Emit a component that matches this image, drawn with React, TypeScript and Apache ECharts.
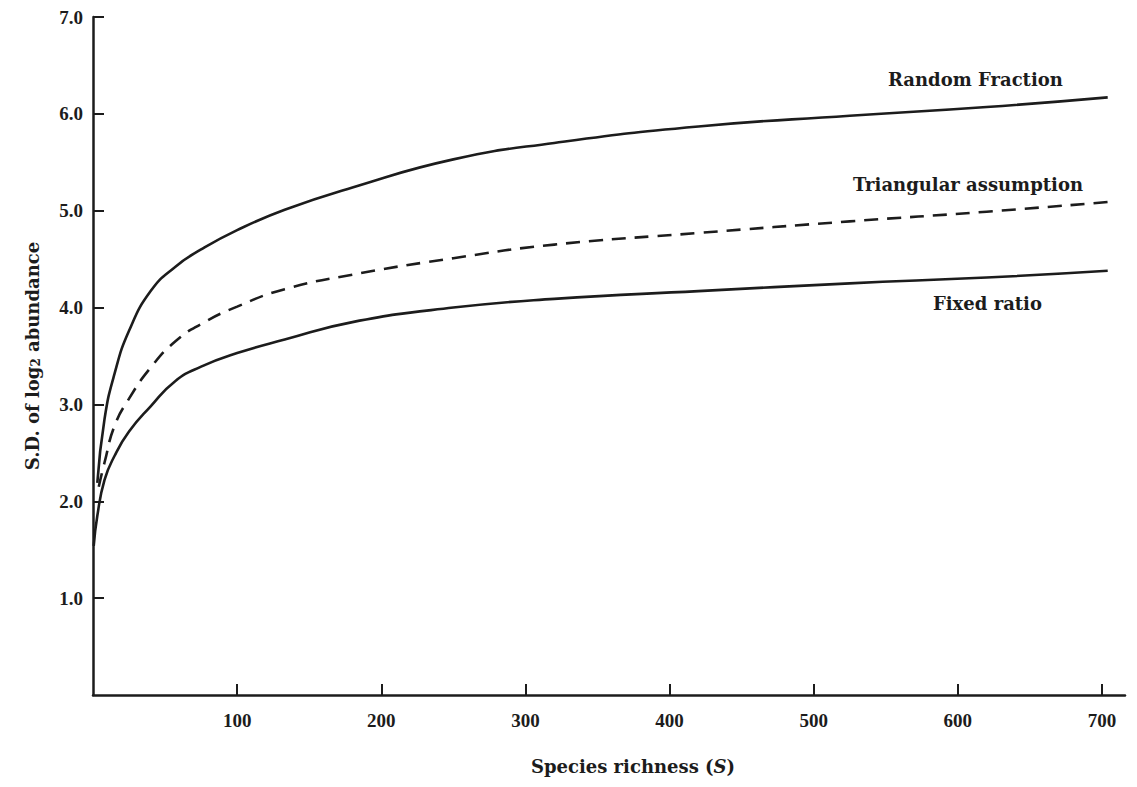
import React, { useEffect, useRef } from "react";
import * as echarts from "echarts";

// Species richness (S) sample points and S.D. of log2 abundance for each model
const sRandom = [3, 8, 15, 25, 40, 57, 75, 100, 133, 180, 250, 320, 420, 525, 620, 704];
const sdRandom = [2.19, 2.85, 3.32, 3.76, 4.17, 4.42, 4.6, 4.8, 5.01, 5.24, 5.53, 5.7, 5.87, 5.98, 6.07, 6.17];

const sTriangular = [4, 8, 15, 25, 40, 57, 75, 100, 133, 180, 250, 320, 420, 525, 620, 704];
const sdTriangular = [2.15, 2.4, 2.78, 3.06, 3.38, 3.65, 3.83, 4.01, 4.19, 4.34, 4.51, 4.65, 4.77, 4.89, 4.99, 5.09];

const sFixed = [0.5, 3, 8, 15, 25, 40, 57, 75, 100, 133, 180, 250, 320, 420, 525, 620, 704];
const sdFixed = [1.54, 1.85, 2.22, 2.47, 2.72, 2.98, 3.24, 3.39, 3.53, 3.67, 3.85, 4.0, 4.09, 4.17, 4.25, 4.31, 4.38];

const xTicks = [100, 200, 300, 400, 500, 600, 700];
const yTicks = [1, 2, 3, 4, 5, 6, 7];

const seriesNames = ["Random Fraction", "Triangular assumption", "Fixed ratio"];

const INK = "#1c1c1c";
const TEXT_FONT = "DejaVu Serif";
const NUM_FONT = "Liberation Serif";

function pairs(xs: number[], ys: number[]) {
  return xs.map((x, i) => [x, ys[i]]);
}

export default function App() {
  const ref = useRef<HTMLDivElement>(null);

  useEffect(() => {
    if (!ref.current) return;
    const chart = echarts.init(ref.current, null, { renderer: "svg" });

    const lineBase = {
      type: "line",
      showSymbol: false,
      smooth: 0.5,
      z: 3,
    };

    chart.setOption({
      animation: false,
      backgroundColor: "#ffffff",
      grid: { left: 93, right: 12, top: 17, bottom: 92, outerBoundsMode: "none" },
      xAxis: {
        type: "value",
        min: 0,
        max: 716,
        interval: 100,
        splitLine: { show: false },
        axisLine: { show: true, lineStyle: { color: INK, width: 2.5 } },
        axisTick: {
          show: true,
          inside: true,
          length: 11,
          customValues: xTicks,
          lineStyle: { color: INK, width: 2 },
        },
        axisLabel: {
          customValues: xTicks,
          margin: 16,
          fontFamily: NUM_FONT,
          fontWeight: "bold",
          fontSize: 19,
          color: INK,
        },
        name: "Species richness ({it|S})",
        nameLocation: "middle",
        nameGap: 62,
        nameTextStyle: {
          fontFamily: TEXT_FONT,
          fontWeight: "bold",
          fontSize: 18,
          color: INK,
          padding: [0, 0, 0, 48],
          rich: {
            it: {
              fontFamily: TEXT_FONT,
              fontWeight: "bold",
              fontStyle: "italic",
              fontSize: 18,
              color: INK,
            },
          },
        },
      },
      yAxis: {
        type: "value",
        min: 0,
        max: 7,
        interval: 1,
        splitLine: { show: false },
        axisLine: { show: true, lineStyle: { color: INK, width: 2.5 } },
        axisTick: {
          show: true,
          inside: true,
          length: 11,
          customValues: yTicks,
          lineStyle: { color: INK, width: 2 },
        },
        axisLabel: {
          customValues: yTicks,
          margin: 10,
          formatter: (v: number) => v.toFixed(1),
          fontFamily: NUM_FONT,
          fontWeight: "bold",
          fontSize: 19,
          color: INK,
        },
        name: "S.D. of log{sub|2} abundance",
        nameLocation: "middle",
        nameRotate: 90,
        nameGap: 51,
        nameTextStyle: {
          fontFamily: TEXT_FONT,
          fontWeight: "bold",
          fontSize: 18,
          color: INK,
          rich: {
            sub: {
              fontFamily: TEXT_FONT,
              fontWeight: "bold",
              fontSize: 12,
              color: INK,
              padding: [8, 0, 0, 0],
            },
          },
        },
      },
      series: [
        {
          ...lineBase,
          name: seriesNames[0],
          data: pairs(sRandom, sdRandom),
          lineStyle: { color: INK, width: 2.6, type: "solid" },
        },
        {
          ...lineBase,
          name: seriesNames[1],
          data: pairs(sTriangular, sdTriangular),
          lineStyle: { color: INK, width: 2.6, type: [14, 9] },
        },
        {
          ...lineBase,
          name: seriesNames[2],
          data: pairs(sFixed, sdFixed),
          lineStyle: { color: INK, width: 2.6, type: "solid" },
        },
      ],
      graphic: [
        {
          type: "text",
          left: 888,
          top: 70,
          style: {
            text: seriesNames[0],
            font: `bold 18px "${TEXT_FONT}"`,
            fill: INK,
          },
        },
        {
          type: "text",
          left: 853,
          top: 175,
          style: {
            text: seriesNames[1],
            font: `bold 18px "${TEXT_FONT}"`,
            fill: INK,
          },
        },
        {
          type: "text",
          left: 933,
          top: 294,
          style: {
            text: seriesNames[2],
            font: `bold 18px "${TEXT_FONT}"`,
            fill: INK,
          },
        },
      ],
    });

    return () => chart.dispose();
  }, []);

  return (
    <div
      ref={ref}
      style={{ position: "fixed", left: 0, top: 0, width: 1137, height: 787, background: "#fff" }}
    />
  );
}
